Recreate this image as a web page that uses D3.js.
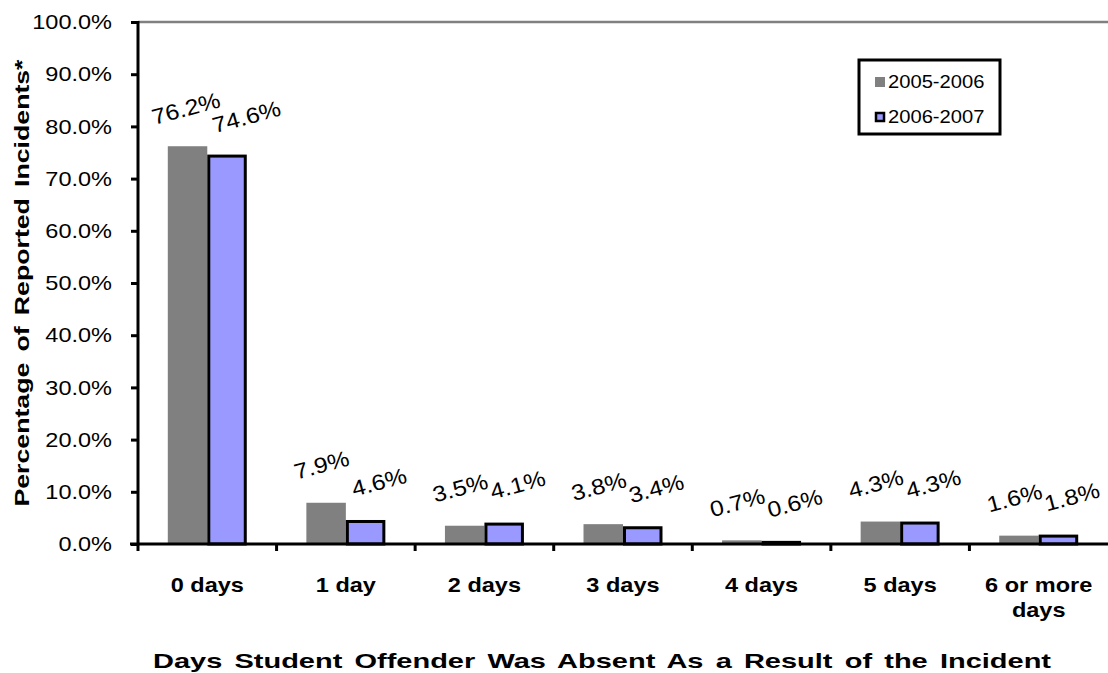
<!DOCTYPE html>
<html>
<head>
<meta charset="utf-8">
<script src="https://cdn.jsdelivr.net/npm/d3@7"></script>
<style>
  html, body { margin: 0; padding: 0; background: #fff; }
  svg { display: block; font-family: Arial, "Liberation Sans", sans-serif; }
</style>
</head>
<body>
<svg id="chart" width="1108" height="673"></svg>
<script>
// Days absent categories and share of incidents per school year
const categories = ["0 days", "1 day", "2 days", "3 days", "4 days", "5 days", "6 or more days"];
const seriesNames = ["2005-2006", "2006-2007"];
const values2005 = [76.2, 7.9, 3.5, 3.8, 0.7, 4.3, 1.6];
const values2006 = [74.6, 4.6, 4.1, 3.4, 0.6, 4.3, 1.8];
const yTicks = [0, 10, 20, 30, 40, 50, 60, 70, 80, 90, 100];

const FONT = "Arial, 'Liberation Sans', sans-serif";
const STRETCH = 1.12; // glyphs are drawn slightly wide

const svg = d3.select("#chart");
const margin = { left: 138, right: 0, top: 22, bottom: 129 };
const W = 1108, H = 673;
const plotW = W - margin.left - margin.right;
const plotH = H - margin.top - margin.bottom;

const g = svg.append("g").attr("transform", `translate(${margin.left},${margin.top})`);

const x = d3.scaleBand().domain(categories).range([0, plotW]).paddingInner(0.43).paddingOuter(0.215);
const xs = d3.scaleBand().domain(seriesNames).range([0, x.bandwidth()]);
const y = d3.scaleLinear().domain([0, 100]).range([plotH, 0]);

// top border of the plot area
g.append("line").attr("x1", 0).attr("x2", plotW).attr("y1", y(100)).attr("y2", y(100))
  .attr("stroke", "#808080").attr("stroke-width", 2.5);

const rows = categories.map((c, i) => ({ cat: c, vals: [values2005[i], values2006[i]] }));
const fills = ["#808080", "#9999FF"];

const grp = g.selectAll(".cat").data(rows).join("g").attr("class", "cat")
  .attr("transform", d => `translate(${x(d.cat)},0)`);

const barData = d => d.vals.map((v, j) => ({ v, s: seriesNames[j], j }));

grp.selectAll("rect").data(barData)
  .join("rect")
  .attr("x", d => xs(d.s) + (d.j === 1 ? 1.5 : 0))
  .attr("width", d => xs.bandwidth() - (d.j === 1 ? 3 : 0))
  .attr("y", d => y(d.v) + (d.j === 1 ? 1.5 : 0))
  .attr("height", d => Math.max(0, plotH - y(d.v) - (d.j === 1 ? 1.5 : 0)))
  .attr("fill", d => fills[d.j])
  .attr("stroke", d => d.j === 1 ? "#000" : "none")
  .attr("stroke-width", 3);

// value labels, tilted
grp.selectAll("text.val").data(barData)
  .join("text").attr("class", "val stretch")
  .attr("transform", d => {
    const big = d.v > 50;
    const dx = d.j === 0 ? (big ? -1 : -4) : (big ? 20 : 14);
    return `translate(${xs(d.s) + xs.bandwidth() / 2 + dx},${y(d.v) - 36}) rotate(-15)`;
  })
  .attr("text-anchor", "middle").attr("dominant-baseline", "middle")
  .attr("font-size", 22).attr("fill", "#000")
  .text(d => d.v.toFixed(1) + "%");

// y axis
const yAxis = g.append("g").call(d3.axisLeft(y).tickValues(yTicks).tickSize(7).tickFormat(d => d.toFixed(1) + "%"));
yAxis.select(".domain").attr("stroke", "#000").attr("stroke-width", 3).attr("d", `M0,${plotH + 1}V${y(100) - 1}`);
yAxis.selectAll(".tick line").attr("stroke", "#000").attr("stroke-width", 3);
yAxis.selectAll(".tick text").attr("class", "stretch").attr("font-size", 21).attr("fill", "#000").attr("x", -26)
  .attr("font-family", FONT);

// x axis baseline and boundary ticks
g.append("line").attr("x1", -8).attr("x2", plotW).attr("y1", plotH).attr("y2", plotH)
  .attr("stroke", "#000").attr("stroke-width", 3);
const boundary = d => x(d) - x.step() * x.paddingOuter();
g.selectAll(".xt").data(categories).join("line").attr("class", "xt")
  .attr("x1", boundary).attr("x2", boundary)
  .attr("y1", plotH).attr("y2", plotH + 7)
  .attr("stroke", "#000").attr("stroke-width", 3);

// category labels
const catText = g.selectAll(".cl").data(categories).join("text").attr("class", "cl")
  .attr("x", d => x(d) + x.bandwidth() / 2)
  .attr("y", plotH + 48)
  .attr("text-anchor", "middle").attr("font-size", 21).attr("font-weight", "bold").attr("fill", "#000");
catText.each(function (d) {
  const t = d3.select(this);
  const lines = d === "6 or more days" ? ["6 or more", "days"] : [d];
  lines.forEach((ln, k) => t.append("tspan").attr("class", "stretch")
    .attr("x", x(d) + x.bandwidth() / 2).attr("dy", k === 0 ? 0 : 25).text(ln));
});

// axis titles
svg.append("text").attr("transform", `translate(29,283) rotate(-90)`)
  .attr("text-anchor", "middle").attr("font-size", 21).attr("font-weight", "bold").attr("fill", "#000")
  .attr("textLength", 447).attr("lengthAdjust", "spacingAndGlyphs")
  .attr("word-spacing", 3)
  .text("Percentage of Reported Incidents*");
svg.append("text").attr("x", 602).attr("y", 668)
  .attr("text-anchor", "middle").attr("font-size", 21).attr("font-weight", "bold").attr("fill", "#000")
  .attr("textLength", 898).attr("lengthAdjust", "spacingAndGlyphs")
  .attr("word-spacing", 3)
  .text("Days Student Offender Was Absent As a Result of the Incident");

// legend
const lg = svg.append("g").attr("transform", "translate(859,60)");
lg.append("rect").attr("width", 141).attr("height", 74).attr("fill", "#fff").attr("stroke", "#000").attr("stroke-width", 3);
seriesNames.forEach((s, j) => {
  const yy = j ? 52 : 17;
  lg.append("rect").attr("x", j ? 17 : 16).attr("y", j ? yy + 1 : yy)
    .attr("width", j ? 8 : 10).attr("height", j ? 8 : 10)
    .attr("fill", fills[j]).attr("stroke", j ? "#000" : "none").attr("stroke-width", 2.5);
  lg.append("text").attr("class", "stretch").attr("x", 29).attr("y", yy + 11)
    .attr("font-size", 18).attr("fill", "#000").text(s);
});

// widen glyphs horizontally
svg.selectAll(".stretch").each(function () {
  const len = this.getComputedTextLength();
  d3.select(this).attr("textLength", len * STRETCH).attr("lengthAdjust", "spacingAndGlyphs");
});
</script>
</body>
</html>
